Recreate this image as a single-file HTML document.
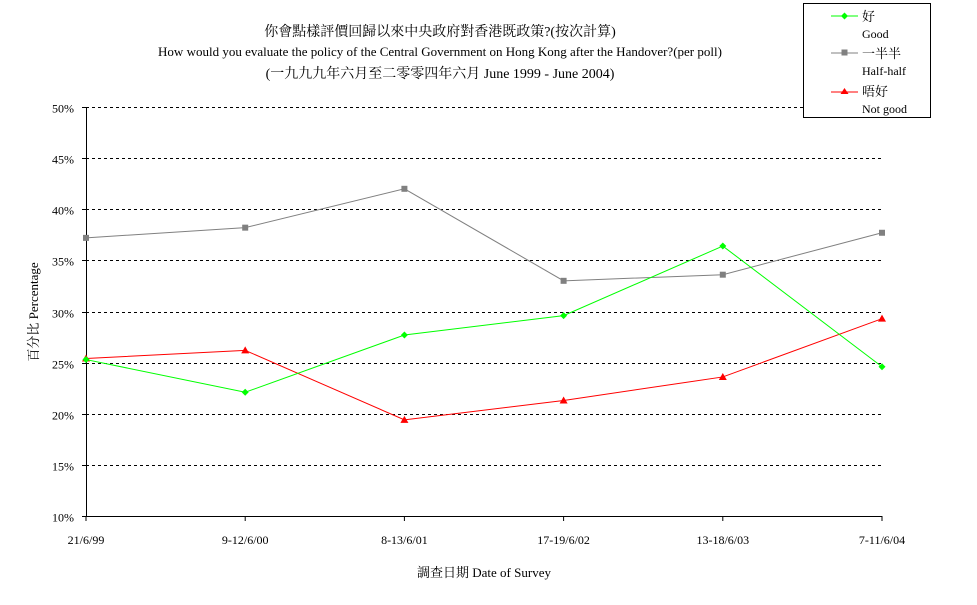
<!DOCTYPE html>
<html><head><meta charset="utf-8"><style>
body{margin:0;background:#fff;}
svg text{font-family:"Liberation Serif","Noto Serif CJK SC","Noto Sans CJK TC",serif;fill:#000;}
</style></head><body>
<svg width="977" height="600" xmlns="http://www.w3.org/2000/svg">
<g>
<text x="440" y="36" font-size="14" text-anchor="middle">你會點樣評價回歸以來中央政府對香港既政策?(按次計算)</text>
<text x="440" y="56" font-size="13" text-anchor="middle">How would you evaluate the policy of the Central Government on Hong Kong after the Handover?(per poll)</text>
<text x="440" y="78" font-size="14" text-anchor="middle">(一九九九年六月至二零零四年六月 June 1999 - June 2004)</text>
</g>
<g id="grid"></g>
<g id="axes"></g>
<g id="series"></g>
<text x="38" y="312" font-size="13" text-anchor="middle" transform="rotate(-90 38 312)">百分比 Percentage</text>
<text x="484" y="577" font-size="13" text-anchor="middle">調查日期 Date of Survey</text>
<g>
<rect x="803.5" y="3.5" width="127" height="114" fill="#fff" stroke="#000"/>
<line x1="831" y1="16" x2="858" y2="16" stroke="#00ff00"/><path d="M844.5 12.5 L848 16 L844.5 19.5 L841 16Z" fill="#00ff00"/>
<text x="862" y="21" font-size="13">好</text><text x="862" y="38" font-size="12">Good</text>
<line x1="831" y1="53" x2="858" y2="53" stroke="#808080"/><rect x="841.5" y="49.5" width="6" height="6" fill="#808080"/>
<text x="862" y="58" font-size="13">一半半</text><text x="862" y="75" font-size="12">Half-half</text>
<line x1="831" y1="92" x2="858" y2="92" stroke="#ff0000"/><path d="M844.5 88 L848.5 94 L840.5 94Z" fill="#ff0000"/>
<text x="862" y="96" font-size="13">唔好</text><text x="862" y="113" font-size="12">Not good</text>
</g>
</svg>
<script>
const categories=["21/6/99","9-12/6/00","8-13/6/01","17-19/6/02","13-18/6/03","7-11/6/04"];
const good=[25.3,22.1,27.7,29.6,36.4,24.6];
const half=[37.2,38.2,42.0,33.0,33.6,37.7];
const notGood=[25.4,26.2,19.4,21.3,23.6,29.3];
const yTicks=[10,15,20,25,30,35,40,45,50];
const NS="http://www.w3.org/2000/svg";
const X0=86,X1=882,Y0=516,Y1=107;
function xs(i){return X0+(X1-X0)*i/(categories.length-1);}
function ys(v){return Y0-(v-10)/40*(Y0-Y1);}
function mk(t,a,p){const e=document.createElementNS(NS,t);for(const k in a)e.setAttribute(k,a[k]);p.appendChild(e);return e;}
const grid=document.getElementById('grid'),axes=document.getElementById('axes'),ser=document.getElementById('series');
yTicks.forEach(v=>{const y=Math.round(ys(v))+0.5;
 if(v>10){const l=mk('line',{x1:X0,x2:X1,y1:y,y2:y,stroke:'#000','stroke-dasharray':'3,3'},grid);
 
 }
 const t=mk('text',{x:X0-12,y:y+5,'font-size':12,'text-anchor':'end'},axes);t.textContent=v+'%';
 
 
 mk('line',{x1:X0-4,x2:X0,y1:y,y2:y,stroke:'#000'},axes);
});
mk('line',{x1:X0+0.5,x2:X0+0.5,y1:Y1,y2:Y0,stroke:'#000'},axes);
mk('line',{x1:X0,x2:X1,y1:Y0+0.5,y2:Y0+0.5,stroke:'#000'},axes);
categories.forEach((c,i)=>{const x=xs(i);
 mk('line',{x1:x,x2:x,y1:Y0,y2:Y0+5,stroke:'#000'},axes);
 const t=mk('text',{x:x,y:Y0+28,'font-size':12,'text-anchor':'middle'},axes);t.textContent=c;
 
 
});
function series(data,color,shape,name){
 const g=mk('g',{},ser);
 
 
 mk('polyline',{points:data.map((v,i)=>xs(i)+','+ys(v)).join(' '),fill:'none',stroke:color},g);
 data.forEach((v,i)=>{const x=xs(i),y=ys(v);let m;
  if(shape==='d')m=mk('path',{d:`M${x} ${y-3.5}L${x+3.5} ${y}L${x} ${y+3.5}L${x-3.5} ${y}Z`,fill:color},g);
  else if(shape==='s')m=mk('rect',{x:x-3,y:y-3,width:6,height:6,fill:color},g);
  else m=mk('path',{d:`M${x} ${y-4}L${x+4} ${y+3}L${x-4} ${y+3}Z`,fill:color},g);
  
  
 });
}
series(half,'#808080','s','series-half-half');
series(notGood,'#ff0000','t','series-not-good');
series(good,'#00ff00','d','series-good');
</script>
</body></html>
